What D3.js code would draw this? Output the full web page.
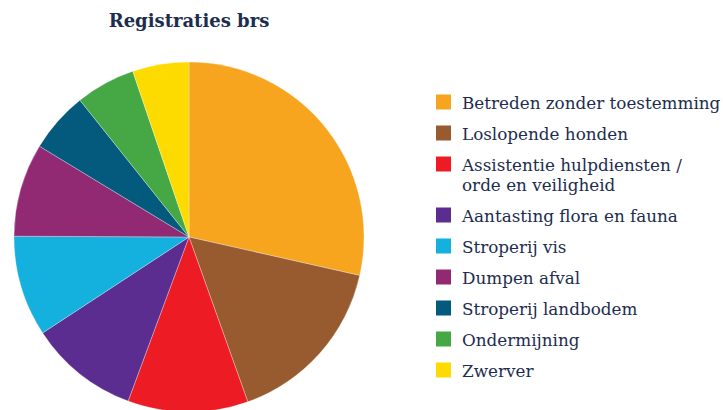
<!DOCTYPE html>
<html>
<head>
  <style>
  body {
    margin: 0;
    background: #fff;
    font-family: "DejaVu Serif", "Liberation Serif", serif;
  }
  .title {
    font-size: 18px;
    font-weight: bold;
    fill: #1d2d50;
  }
  .legend text {
    font-size: 16.8px;
    fill: #1d2d50;
  }
  </style>
</head>
<body>
  <div id="chart"></div>
  <script src="https://d3js.org/d3.v7.min.js"></script>
  <script>
  var categories = ["Betreden zonder toestemming", "Loslopende honden", "Assistentie hulpdiensten / orde en veiligheid",
    "Aantasting flora en fauna", "Stroperij vis", "Dumpen afval", "Stroperij landbodem", "Ondermijning", "Zwerver"];
  var labelLines = [["Betreden zonder toestemming"], ["Loslopende honden"], ["Assistentie hulpdiensten /", "orde en veiligheid"],
    ["Aantasting flora en fauna"], ["Stroperij vis"], ["Dumpen afval"], ["Stroperij landbodem"], ["Ondermijning"], ["Zwerver"]];
  var values = [28.5, 16.0, 11.1, 10.1, 9.3, 8.6, 5.6, 5.5, 5.2];
  var colors = ["#f7a51f", "#975b2f", "#ed1c24", "#5c2d91", "#14b0de", "#922a73", "#035a7d", "#45a845", "#fedb00"];

  var width = 723, height = 410;
  var cx = 189, cy = 237, radius = 175;

  var svg = d3.select("#chart").append("svg")
      .attr("width", width)
      .attr("height", height);

  svg.append("text")
      .attr("class", "title")
      .attr("x", cx)
      .attr("y", 27)
      .attr("text-anchor", "middle")
      .text("Registraties brs");

  var data = categories.map(function(c, i){ return {name: c, value: values[i], color: colors[i]}; });

  var pie = d3.pie().sort(null).value(function(d){ return d.value; });
  var arc = d3.arc().innerRadius(0).outerRadius(radius);

  svg.append("g")
      .attr("transform", "translate(" + cx + "," + cy + ")")
    .selectAll("path")
      .data(pie(data))
    .enter().append("path")
      .attr("d", arc)
      .style("fill", function(d){ return d.data.color; })
      .style("stroke", "#fff")
      .style("stroke-width", 0.3);

  // legend
  var legend = svg.append("g").attr("class", "legend").attr("transform", "translate(436,0)");
  var ys = [];
  var y = 102;
  labelLines.forEach(function(lines){
    ys.push(y);
    y += 31 + (lines.length - 1) * 20;
  });

  var item = legend.selectAll("g")
      .data(data)
    .enter().append("g")
      .attr("transform", function(d, i){ return "translate(0," + ys[i] + ")"; });

  item.append("rect")
      .attr("x", 0)
      .attr("y", -7.5)
      .attr("width", 15)
      .attr("height", 15)
      .style("fill", function(d){ return d.color; });

  item.append("text")
      .attr("x", 26)
      .attr("y", 6.5)
      .selectAll("tspan")
      .data(function(d, i){ return labelLines[i]; })
    .enter().append("tspan")
      .attr("x", 26)
      .attr("dy", function(d, j){ return j === 0 ? 0 : 20; })
      .text(function(d){ return d; });
  </script>
</body>
</html>
